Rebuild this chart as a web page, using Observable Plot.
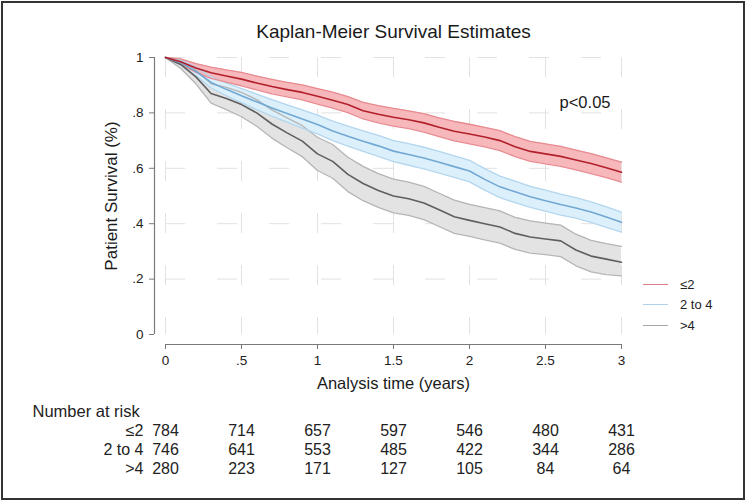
<!DOCTYPE html>
<html><head><meta charset="utf-8">
<script src="https://cdn.jsdelivr.net/npm/d3@7"></script>
<script src="https://cdn.jsdelivr.net/npm/@observablehq/plot@0.6"></script>
<style>
html,body{margin:0;padding:0;background:#fff;}
#wrap{position:relative;width:750px;height:503px;overflow:hidden;font-family:"Liberation Sans",Arial,sans-serif;}
#border{position:absolute;left:1px;top:1px;width:744px;height:499px;border:2px solid #333;box-sizing:border-box;pointer-events:none;}
#legend{position:absolute;left:643px;top:274px;font-size:13px;color:#222;}
.item{display:flex;align-items:center;height:20.5px;}
.swatch{width:25px;height:0;border-top:1.5px solid;margin-right:12px;}
</style></head><body><div id="wrap"><div id="chart"></div><div id="legend"></div><div id="border"></div></div>
<script>
const title = "Kaplan-Meier Survival Estimates";
const xLabel = "Analysis time (years)";
const yLabel = "Patient Survival (%)";
const pText = "p<0.05";
const groups = ["≤2", "2 to 4", ">4"];
const xTicks = [0, 0.5, 1, 1.5, 2, 2.5, 3];
const xTickLabels = ["0", ".5", "1", "1.5", "2", "2.5", "3"];
const yTicks = [0, 0.2, 0.4, 0.6, 0.8, 1];
const yTickLabels = ["0", ".2", ".4", ".6", ".8", "1"];

const times = [0,0.1,0.2,0.3,0.4,0.5,0.6,0.7,0.8,0.9,1.0,1.1,1.2,1.3,1.4,1.5,1.6,1.7,1.8,1.9,2.0,2.1,2.2,2.3,2.4,2.5,2.6,2.7,2.8,2.9,3.0];

const survLe2 = [1.0,0.985,0.962,0.945,0.933,0.922,0.908,0.895,0.884,0.874,0.860,0.846,0.830,0.808,0.795,0.784,0.775,0.764,0.748,0.734,0.724,0.713,0.700,0.678,0.661,0.652,0.643,0.630,0.617,0.602,0.586];
const upperLe2 = [1.0,0.995,0.978,0.965,0.955,0.946,0.933,0.921,0.910,0.901,0.888,0.875,0.859,0.838,0.826,0.816,0.807,0.797,0.782,0.769,0.759,0.748,0.736,0.714,0.697,0.688,0.679,0.666,0.653,0.638,0.622];
const lowerLe2 = [1.0,0.975,0.946,0.925,0.911,0.898,0.883,0.869,0.858,0.847,0.832,0.817,0.801,0.778,0.764,0.752,0.743,0.731,0.714,0.699,0.688,0.677,0.664,0.642,0.625,0.616,0.607,0.594,0.581,0.566,0.550];

const surv2to4 = [1.0,0.982,0.950,0.910,0.885,0.862,0.840,0.818,0.798,0.778,0.758,0.735,0.716,0.698,0.681,0.662,0.650,0.637,0.622,0.606,0.590,0.560,0.533,0.515,0.497,0.483,0.469,0.457,0.442,0.424,0.405];
const upper2to4 = [1.0,0.992,0.965,0.930,0.908,0.888,0.868,0.848,0.829,0.811,0.792,0.770,0.752,0.735,0.719,0.700,0.689,0.676,0.661,0.645,0.629,0.599,0.572,0.554,0.535,0.521,0.507,0.494,0.479,0.461,0.442];
const lower2to4 = [1.0,0.972,0.935,0.890,0.862,0.836,0.812,0.788,0.767,0.745,0.724,0.700,0.680,0.661,0.643,0.624,0.611,0.598,0.583,0.567,0.551,0.521,0.494,0.476,0.459,0.445,0.431,0.420,0.405,0.387,0.370];

const survGt4 = [1.0,0.975,0.930,0.870,0.852,0.830,0.800,0.760,0.728,0.698,0.652,0.625,0.578,0.545,0.520,0.500,0.490,0.475,0.450,0.425,0.412,0.400,0.388,0.365,0.352,0.345,0.338,0.305,0.283,0.272,0.261];
const upperGt4 = [1.0,0.990,0.955,0.905,0.892,0.874,0.848,0.811,0.782,0.754,0.712,0.686,0.640,0.607,0.581,0.561,0.550,0.535,0.510,0.485,0.470,0.458,0.446,0.423,0.410,0.402,0.395,0.362,0.340,0.328,0.318];
const lowerGt4 = [1.0,0.960,0.905,0.835,0.812,0.786,0.752,0.709,0.674,0.642,0.592,0.564,0.516,0.483,0.459,0.439,0.430,0.415,0.390,0.365,0.354,0.342,0.330,0.307,0.294,0.288,0.281,0.248,0.226,0.216,0.212];

const riskTimes = [0, 0.5, 1, 1.5, 2, 2.5, 3];
const riskLe2 = [784, 714, 657, 597, 546, 480, 431];
const risk2to4 = [746, 641, 553, 485, 422, 344, 286];
const riskGt4 = [280, 223, 171, 127, 105, 84, 64];

const lineColors = ["#b2202c", "#72a8d4", "#5f5f5f"];
const edgeColors = ["#e88a90", "#b3d6ee", "#b5b5b5"];
const fillColors = ["#f7b8bb", "#dcf0fb", "#e3e3e3"];
const legendColors = ["#dd7f85", "#afd2ea", "#a8a8a8"];

const survs = [survLe2, surv2to4, survGt4];
const uppers = [upperLe2, upper2to4, upperGt4];
const lowers = [lowerLe2, lower2to4, lowerGt4];
const risks = [riskLe2, risk2to4, riskGt4];

const series = groups.map((g, i) => times.map((t, j) => ({group: g, time: t, s: survs[i][j], hi: uppers[i][j], lo: lowers[i][j]})));

const order = [2, 1, 0];
const bandMarks = order.map(i => Plot.areaY(series[i], {x: "time", y1: "lo", y2: "hi", fill: fillColors[i], fillOpacity: 1}));
const edgeMarks = order.flatMap(i => [
  Plot.lineY(series[i], {x: "time", y: "hi", stroke: edgeColors[i], strokeWidth: 1.3}),
  Plot.lineY(series[i], {x: "time", y: "lo", stroke: edgeColors[i], strokeWidth: 1.3})
]);
const lineMarks = order.map(i => Plot.lineY(series[i], {x: "time", y: "s", stroke: lineColors[i], strokeWidth: 1.6}));

const riskRowDy = [101, 120, 139];
const riskMarks = groups.flatMap((g, i) => [
  Plot.text([g], {frameAnchor: "bottom-left", dx: -22, dy: riskRowDy[i], textAnchor: "end", lineAnchor: "bottom", fontSize: 16, fill: "#222"}),
  Plot.text(riskTimes.map((t, j) => ({t, n: risks[i][j]})), {x: "t", text: d => String(d.n), frameAnchor: "bottom", dy: riskRowDy[i], lineAnchor: "bottom", fontSize: 16, fill: "#222"})
]);

const chart = Plot.plot({
  width: 750, height: 503,
  marginLeft: 165, marginRight: 129, marginTop: 57, marginBottom: 169,
  style: {fontFamily: "'Liberation Sans', Arial, sans-serif", fontSize: "13.5px", color: "#222", background: "white"},
  x: {domain: [0, 3], axis: null},
  y: {domain: [0, 1], axis: null},
  marks: [
    Plot.gridY(yTicks.slice(1), {stroke: "#e2e2e2", strokeOpacity: 1, strokeDasharray: "20,32"}),
    Plot.gridX(xTicks, {stroke: "#e2e2e2", strokeOpacity: 1, strokeDasharray: "20,32"}),
    ...bandMarks,
    ...edgeMarks,
    ...lineMarks,
    Plot.ruleX([0], {y1: 0, y2: 1, dx: -11, stroke: "#7a7a7a", strokeWidth: 1.2}),
    Plot.ruleY([0], {x1: 0, x2: 3, dy: 10, stroke: "#7a7a7a", strokeWidth: 1.2}),
    Plot.axisY(yTicks, {anchor: "left", tickFormat: d => yTickLabels[yTicks.indexOf(d)], dx: -11, tickSize: 5, tickPadding: 6, stroke: "#7a7a7a", fill: "#222", fontSize: 13.5, label: null}),
    Plot.axisX(xTicks, {anchor: "bottom", tickFormat: d => xTickLabels[xTicks.indexOf(d)], dy: 10, tickSize: 5, tickPadding: 6, stroke: "#7a7a7a", fill: "#222", fontSize: 13.5, label: null}),
    Plot.text([title], {frameAnchor: "top", dy: -20, lineAnchor: "bottom", fontSize: 19, fill: "#1a1a1a"}),
    Plot.text([xLabel], {frameAnchor: "bottom", dy: 54, lineAnchor: "bottom", fontSize: 16.5, fill: "#1a1a1a"}),
    Plot.text([yLabel], {frameAnchor: "left", dx: -49, rotate: -90, textAnchor: "middle", lineAnchor: "bottom", fontSize: 17, fill: "#1a1a1a"}),
    Plot.text([pText], {frameAnchor: "top-right", dx: -11, dy: 50, textAnchor: "end", lineAnchor: "bottom", fontSize: 16.5, fill: "#1a1a1a"}),
    Plot.text(["Number at risk"], {frameAnchor: "bottom-left", dx: -133, dy: 82, textAnchor: "start", lineAnchor: "bottom", fontSize: 16.5, fill: "#222"}),
    ...riskMarks
  ]
});
document.getElementById("chart").appendChild(chart);

const legend = document.getElementById("legend");
groups.forEach((g, i) => {
  const row = document.createElement("div");
  row.className = "item";
  const sw = document.createElement("div");
  sw.className = "swatch";
  sw.style.borderTopColor = legendColors[i];
  const lab = document.createElement("span");
  lab.textContent = g;
  row.appendChild(sw); row.appendChild(lab);
  legend.appendChild(row);
});
</script></body></html>
